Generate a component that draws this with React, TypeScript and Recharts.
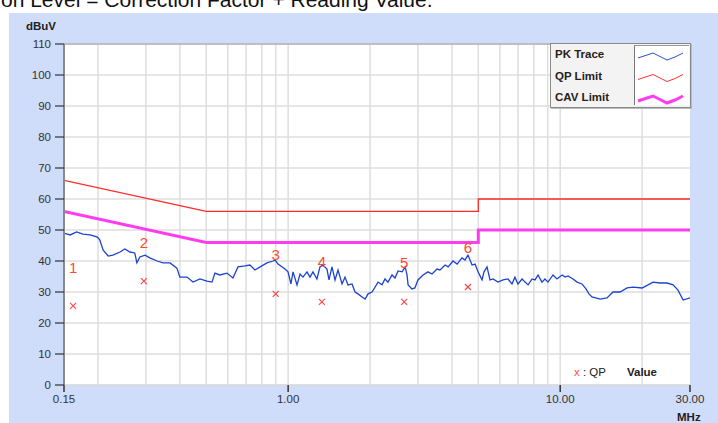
import {
  CartesianGrid,
  ComposedChart,
  Line,
  ReferenceLine,
  Scatter,
  XAxis,
  YAxis,
} from "recharts";

// peak trace (MHz / dBuV)
const PK_FREQ = [
  0.15, 0.158, 0.167, 0.176, 0.187, 0.199, 0.203, 0.209, 0.218, 0.227, 0.241,
  0.251, 0.262, 0.273, 0.278, 0.285, 0.298, 0.31, 0.33, 0.347, 0.368, 0.39,
  0.4, 0.425, 0.447, 0.474, 0.503, 0.525, 0.538, 0.561, 0.596, 0.627, 0.654,
  0.694, 0.724, 0.755, 0.789, 0.836, 0.879,
  0.895, 0.918, 0.974, 0.999, 1.024, 1.042, 1.078, 1.106, 1.134, 1.173, 1.203,
  1.234, 1.276, 1.309, 1.343, 1.389, 1.413, 1.449, 1.487, 1.525, 1.578, 1.618,
  1.66, 1.717, 1.762, 1.806, 1.87, 1.918, 1.967, 2.034,
  2.14, 2.213, 2.27, 2.328, 2.409, 2.471, 2.535, 2.624, 2.692, 2.735, 2.76,
  2.852, 2.924, 3.0, 3.133, 3.266, 3.38, 3.525, 3.614, 3.776, 3.873, 4.036,
  4.178, 4.355, 4.467, 4.581, 4.742, 4.864, 4.989, 5.159, 5.248,
  5.383, 5.521, 5.664, 5.911, 6.166, 6.43, 6.649, 6.817, 6.993, 7.244, 7.43,
  7.621, 7.881, 8.083, 8.291, 8.57, 8.79, 9.016, 9.41, 9.73, 10.16, 10.42,
  10.68, 11.15, 11.53, 12.02, 12.44, 12.76,
  13.09, 14.03, 14.86, 15.63, 16.6, 17.62, 18.53, 20.0, 21.04, 21.94, 23.29,
  24.71, 26.0, 27.1, 28.31, 30.0,
];
const PK_DB = [
  49.0, 48.4, 49.4, 48.7, 48.4, 47.7, 46.8, 43.5, 41.6, 41.9, 42.9, 43.9, 42.9,
  42.6, 39.4, 41.3, 41.9, 41.0, 40.0, 39.4, 39.4, 37.7, 34.8, 34.8, 33.2, 34.2,
  33.5, 33.2, 36.1, 35.5, 36.1, 34.5, 38.1, 38.4, 38.7, 37.1, 38.1, 39.4, 40.0,
  40.3, 39.0, 37.4, 36.5, 32.6, 36.5, 32.3, 35.8, 34.8, 36.5, 34.8, 36.5, 34.2,
  38.1, 38.7, 37.4, 33.9, 38.1, 33.9, 37.1, 32.6, 34.8, 32.3, 32.6, 30.0, 29.4,
  28.4, 27.7, 29.4, 30.0,
  33.2, 32.3, 34.2, 33.2, 35.5, 34.5, 36.8, 36.5, 38.1, 35.5, 32.3, 31.0, 31.3,
  33.9, 35.5, 36.5, 35.8, 37.4, 37.1, 38.7, 38.1, 40.0, 39.0, 41.0, 40.3, 41.9,
  38.7, 39.0, 36.5, 33.9, 36.5,
  38.1, 33.9, 34.2, 33.2, 33.9, 34.2, 32.6, 34.8, 32.6, 34.2, 33.2, 32.3, 34.2,
  33.9, 35.5, 33.2, 34.2, 33.2, 35.5, 34.2, 35.5, 34.8, 35.2, 34.2, 33.2, 32.6,
  31.0, 29.4,
  28.4, 27.7, 28.1, 30.0, 30.0, 31.3, 31.6, 31.3, 32.3, 33.2, 32.9, 32.9, 32.3,
  30.6, 27.4, 28.1,
];

const LIMIT_FREQ = [0.15, 0.5, 5, 5, 30];
const QP_LIMIT_DB = [66, 56, 56, 60, 60];
const CAV_LIMIT_DB = [56, 46, 46, 50, 50];

const MARK_NO = ["1", "2", "3", "4", "5", "6"];
const MARK_FREQ = [0.162, 0.295, 0.9, 1.33, 2.67, 4.58];
const MARK_QP_DB = [25.5, 33.5, 29.4, 26.8, 26.8, 31.6];
const MARK_LABEL_DB = [38, 46, 42, 39.7, 39.4, 44.5];

const GRID_FREQ = [
  0.2, 0.3, 0.4, 0.5, 0.6, 0.7, 0.8, 0.9, 1, 2, 3, 4, 5, 6, 7, 8, 9, 10, 20,
];
const X_TICKS = [0.15, 1, 10, 30];
const Y_TICKS = [0, 10, 20, 30, 40, 50, 60, 70, 80, 90, 100, 110];

const LEGEND_NAMES = ["PK Trace", "QP Limit", "CAV Limit"];

const FONT = "'Liberation Sans', Arial, sans-serif";
const PANEL = "#cfdcfa";

const pkData = PK_FREQ.map((f, i) => ({ f, v: PK_DB[i] }));
const qpLimit = LIMIT_FREQ.map((f, i) => ({ f, v: QP_LIMIT_DB[i] }));
const cavLimit = LIMIT_FREQ.map((f, i) => ({ f, v: CAV_LIMIT_DB[i] }));
const qpMarks = MARK_FREQ.map((f, i) => ({ f, v: MARK_QP_DB[i] }));
const markLabels = MARK_FREQ.map((f, i) => ({
  f,
  v: MARK_LABEL_DB[i],
  n: MARK_NO[i],
}));

const Cross = (p: any) => (
  <g stroke="#ff4a4a" strokeWidth={1.2}>
    <line x1={p.cx - 3} y1={p.cy - 3} x2={p.cx + 3} y2={p.cy + 3} />
    <line x1={p.cx - 3} y1={p.cy + 3} x2={p.cx + 3} y2={p.cy - 3} />
  </g>
);

const MarkNo = (p: any) => (
  <text
    x={p.cx}
    y={p.cy}
    textAnchor="middle"
    dominantBaseline="central"
    fontSize={15}
    fontFamily={FONT}
    fill="#ff4b2e"
  >
    {p.payload.n}
  </text>
);

const LEGEND_COLORS = ["#2a4fd6", "#ff3030", "#ff3cf0"];
const LEGEND_WIDTHS = [1, 1, 3];

function LegendBox() {
  return (
    <div
      style={{
        position: "absolute",
        left: 550,
        top: 43,
        width: 139,
        height: 63,
        background: "#f3f3f3",
        border: "1px solid #8a8a8a",
        boxShadow: "1px 1px 0 #bbb",
        fontFamily: FONT,
      }}
    >
      {LEGEND_NAMES.map((name, i) => (
        <div
          key={name}
          style={{
            position: "absolute",
            left: 4,
            top: 3 + i * 21.5,
            fontSize: 11.5,
            fontWeight: "bold",
            color: "#2a2018",
            lineHeight: "14px",
          }}
        >
          {name}
        </div>
      ))}
      <svg
        width={54}
        height={59}
        style={{
          position: "absolute",
          left: 83,
          top: 1,
          background: "#fff",
          borderLeft: "1px solid #777",
          borderTop: "1px solid #999",
        }}
      >
        {LEGEND_COLORS.map((c, i) => {
          const y = 11 + i * 21.5;
          return (
            <polyline
              key={c}
              points={`3,${y + 1} 12,${y - 2} 18,${y - 4} 24,${y - 1} 32,${y + 3} 40,${y} 48,${y - 4}`}
              fill="none"
              stroke={c}
              strokeWidth={LEGEND_WIDTHS[i]}
            />
          );
        })}
      </svg>
    </div>
  );
}

export default function App() {
  return (
    <div
      style={{
        position: "absolute",
        left: 0,
        top: 0,
        width: 718,
        height: 423,
        overflow: "hidden",
        background: "#fff",
        fontFamily: FONT,
      }}
    >
      <div
        style={{
          position: "absolute",
          left: 1,
          top: -11,
          fontSize: 21,
          lineHeight: "21px",
          whiteSpace: "nowrap",
          color: "#111",
        }}
      >
        on Level = Correction Factor + Reading Value.
      </div>
      <div
        style={{
          position: "absolute",
          left: 9,
          top: 13,
          width: 709,
          height: 410,
          background: PANEL,
        }}
      >
        <ComposedChart
          width={709}
          height={410}
          margin={{ top: 31, right: 28, left: 0, bottom: 0 }}
        >
          <CartesianGrid
            vertical={false}
            stroke="#dedede"
            strokeWidth={1.5}
            fill="#fff"
          />
          {GRID_FREQ.map((f) => (
            <ReferenceLine
              key={f}
              x={f}
              stroke="#dedede"
              strokeWidth={1.5}
              ifOverflow="hidden"
            />
          ))}
          <ReferenceLine y={110} stroke="#9a9a9a" strokeWidth={1} />
          <XAxis
            type="number"
            dataKey="f"
            scale="log"
            domain={[0.15, 30]}
            ticks={X_TICKS}
            allowDataOverflow
            height={38}
            tickSize={7}
            tickMargin={3}
            axisLine={{ stroke: "#d8d8d8" }}
            tickLine={{ stroke: "#333", strokeWidth: 1.5 }}
            tick={{ fontSize: 11.5, fill: "#333", fontFamily: FONT }}
            tickFormatter={(v: number) => (v < 1 ? v.toString() : v.toFixed(2))}
          />
          <YAxis
            type="number"
            dataKey="v"
            domain={[0, 110]}
            ticks={Y_TICKS}
            width={55}
            tickSize={9}
            tickMargin={4}
            axisLine={{ stroke: "#8a8a8a", strokeWidth: 2 }}
            tickLine={{ stroke: "#333", strokeWidth: 1.2 }}
            tick={{ fontSize: 11.5, fill: "#333", fontFamily: FONT }}
          />
          <Line
            data={pkData}
            dataKey="v"
            stroke="#1c43cf"
            strokeWidth={1.3}
            dot={false}
            isAnimationActive={false}
          />
          <Line
            data={cavLimit}
            dataKey="v"
            stroke="#ff3cf0"
            strokeWidth={3}
            dot={false}
            isAnimationActive={false}
          />
          <Line
            data={qpLimit}
            dataKey="v"
            stroke="#ff2a2a"
            strokeWidth={1.3}
            dot={false}
            isAnimationActive={false}
          />
          <Scatter data={qpMarks} shape={Cross} isAnimationActive={false} />
          <Scatter data={markLabels} shape={MarkNo} isAnimationActive={false} />
        </ComposedChart>
        <div
          style={{
            position: "absolute",
            left: 17,
            top: 7,
            fontSize: 11.5,
            fontWeight: "bold",
            color: "#222",
          }}
        >
          dBuV
        </div>
        <div
          style={{
            position: "absolute",
            left: 668,
            top: 398,
            fontSize: 11.5,
            fontWeight: "bold",
            color: "#222",
          }}
        >
          MHz
        </div>
        <div
          style={{
            position: "absolute",
            left: 565,
            top: 353,
            fontSize: 11.5,
            color: "#222",
            whiteSpace: "nowrap",
          }}
        >
          <span style={{ color: "#ff4a4a" }}>x</span> : QP
          <span style={{ fontWeight: "bold", marginLeft: 21 }}>Value</span>
        </div>
      </div>
      <LegendBox />
    </div>
  );
}
